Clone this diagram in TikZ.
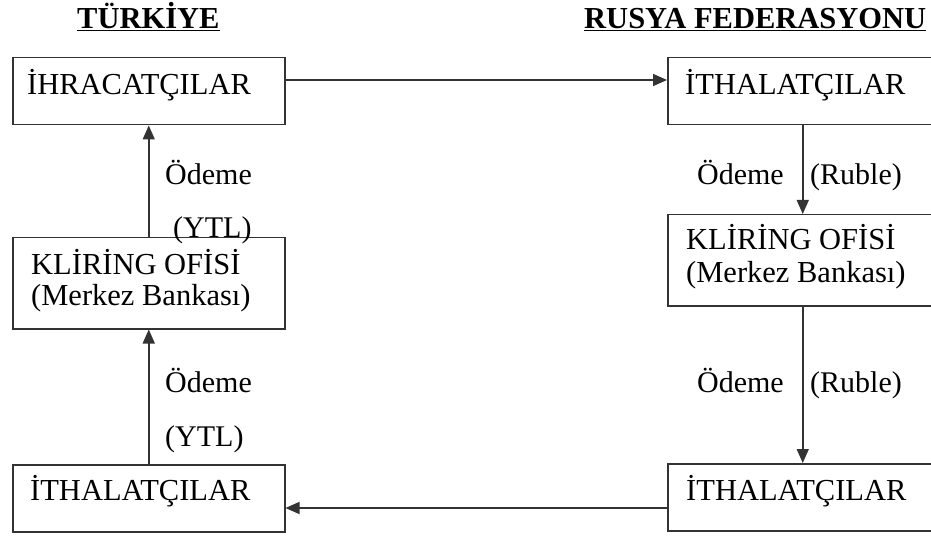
\documentclass[tikz,border=0pt]{standalone}
\usepackage{fontspec}
\setmainfont{Liberation Serif}
\usetikzlibrary{arrows.meta}
\begin{document}
\begin{tikzpicture}[x=1pt,y=-1pt,
  box/.style={draw=black!80, line width=1.5pt, rectangle, anchor=north west, inner sep=0pt},
  txt/.style={inner sep=0pt, anchor=base west, font=\fontsize{30.5}{32}\selectfont},
  lbl/.style={inner sep=0pt, font=\fontsize{30}{32}\selectfont},
  ttl/.style={inner sep=0pt, anchor=base west, font=\fontsize{30.5}{32}\selectfont\bfseries},
  arr/.style={draw=black!80, line width=1.5pt, -{Triangle[length=14pt,width=12pt]}}]
\useasboundingbox (0,0) rectangle (931,537);
\clip (0,0) rectangle (931,537);
% titles
\node[ttl] (tr) at (77,29) {\underline{TÜRKİYE}};
\node[ttl] (ru) at (584,29) {\underline{RUSYA FEDERASYONU}};
% left column boxes
\node[box, minimum width=272pt, minimum height=67pt] (ihr) at (12,57) {};
\node[box, minimum width=272pt, minimum height=91pt] (klL) at (12,237) {};
\node[box, minimum width=272pt, minimum height=67pt] (itL) at (12,464) {};
% right column boxes
\node[box, minimum width=270pt, minimum height=67pt] (itR) at (667,57) {};
\node[box, minimum width=270pt, minimum height=91pt] (klR) at (667,214) {};
\node[box, minimum width=270pt, minimum height=67pt] (itR2) at (667,463) {};
% box texts
\node[txt] (t1) at (27,95) {İHRACATÇILAR};
\node[txt] (t2) at (31,275) {KLİRİNG OFİSİ};
\node[txt] (t3) at (31,305) {(Merkez Bankası)};
\node[txt] (t4) at (30,500) {İTHALATÇILAR};
\node[txt] (t5) at (685,95) {İTHALATÇILAR};
\node[txt] (t6) at (686,250) {KLİRİNG OFİSİ};
\node[txt] (t7) at (686,283) {(Merkez Bankası)};
\node[txt] (t8) at (686,500) {İTHALATÇILAR};
% connectors
\draw[arr] (ihr.east |- 0,80) -- (itR.west |- 0,80);
\draw[arr] (itR2.west |- 0,508) -- (itL.east |- 0,508);
\draw[arr] (klL.north) -- (ihr.south);
\draw[arr] (itL.north) -- (klL.south);
\draw[arr] (itR.south) -- (klR.north);
\draw[arr] (klR.south) -- (itR2.north);
% labels
\node[lbl, anchor=base west] (o1) at (165,185) {Ödeme};
\node[lbl, anchor=base west] (y1) at (173,238) {(YTL)};
\node[lbl, anchor=base west] (o2) at (165,392) {Ödeme};
\node[lbl, anchor=base west] (y2) at (165,446) {(YTL)};
\node[lbl, anchor=base east] (o3) at (784,185) {Ödeme};
\node[lbl, anchor=base west] (r3) at (810,185) {(Ruble)};
\node[lbl, anchor=base east] (o4) at (784,392) {Ödeme};
\node[lbl, anchor=base west] (r4) at (810,392) {(Ruble)};
\end{tikzpicture}
\end{document}
